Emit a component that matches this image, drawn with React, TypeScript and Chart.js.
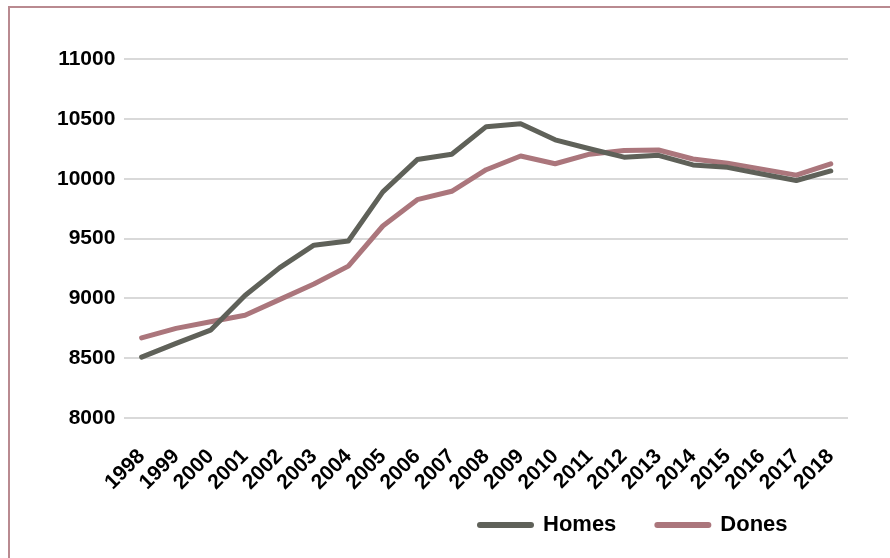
import React, { useEffect, useRef } from "react";
import { Chart, registerables } from "chart.js";

Chart.register(...registerables);

const years = [
  "1998", "1999", "2000", "2001", "2002", "2003", "2004", "2005", "2006", "2007",
  "2008", "2009", "2010", "2011", "2012", "2013", "2014", "2015", "2016", "2017", "2018",
];

const homes = [
  8510, 8625, 8735, 9025, 9255, 9445, 9480, 9890, 10160, 10205,
  10435, 10460, 10325, 10250, 10180, 10195, 10115, 10095, 10040, 9985, 10065,
];

const dones = [
  8670, 8750, 8805, 8860, 8990, 9120, 9270, 9605, 9825, 9895,
  10075, 10190, 10125, 10205, 10235, 10240, 10165, 10130, 10080, 10030, 10125,
];

const yTicks = [8000, 8500, 9000, 9500, 10000, 10500, 11000];

const HOMES_COLOR = "#5f6159";
const DONES_COLOR = "#ab767c";
const FONT = "'Liberation Sans', Arial, sans-serif";

const bottomLegend = {
  id: "bottomLegend",
  afterDraw(chart: any) {
    const ctx = chart.ctx;
    ctx.save();
    ctx.font = `bold 22px ${FONT}`;
    ctx.textBaseline = "middle";
    ctx.textAlign = "left";
    let x = 477;
    const y = 525;
    chart.data.datasets.forEach((ds: any) => {
      ctx.strokeStyle = ds.borderColor;
      ctx.lineWidth = 6;
      ctx.lineCap = "round";
      ctx.beginPath();
      ctx.moveTo(x + 3, y);
      ctx.lineTo(x + 54, y);
      ctx.stroke();
      ctx.fillStyle = "#000";
      ctx.fillText(ds.label, x + 66, y);
      x += 66 + ctx.measureText(ds.label).width + 38;
    });
    ctx.restore();
  },
};

export default function App() {
  const ref = useRef<HTMLCanvasElement | null>(null);
  useEffect(() => {
    if (!ref.current) return;
    const chart = new Chart(ref.current, {
      type: "line",
      data: {
        labels: years,
        datasets: [
          {
            label: "Homes",
            data: homes,
            borderColor: HOMES_COLOR,
            backgroundColor: HOMES_COLOR,
            borderWidth: 5,
            pointRadius: 0,
            tension: 0,
            borderJoinStyle: "round",
            borderCapStyle: "round",
          },
          {
            label: "Dones",
            data: dones,
            borderColor: DONES_COLOR,
            backgroundColor: DONES_COLOR,
            borderWidth: 5,
            pointRadius: 0,
            tension: 0,
            borderJoinStyle: "round",
            borderCapStyle: "round",
          },
        ],
      },
      options: {
        animation: false,
        responsive: false,
        maintainAspectRatio: false,
        layout: { padding: { left: 48, right: 42, top: 59, bottom: 37 } },
        plugins: {
          legend: { display: false },
          tooltip: { enabled: false },
        },
        scales: {
          x: {
            offset: true,
            grid: { display: false, drawTicks: false },
            border: { display: false },
            ticks: {
              color: "#000",
              font: { family: FONT, size: 21, weight: "bold" },
              maxRotation: 45,
              minRotation: 45,
              padding: 26,
              autoSkip: false,
            },
          },
          y: {
            min: 8000,
            max: 11000,
            afterBuildTicks: (axis: any) => {
              axis.ticks = yTicks.map((v) => ({ value: v }));
            },
            grid: { color: "#d9d9d9", lineWidth: 2, drawTicks: false },
            border: { display: false },
            ticks: {
              color: "#000",
              font: { family: FONT, size: 21, weight: "bold" },
              padding: 9,
              callback: (v: any) => String(v),
            },
          },
        },
      },
      plugins: [bottomLegend],
    });
    return () => chart.destroy();
  }, []);
  return (
    <>
      <div
        style={{
          position: "absolute",
          left: 8,
          top: 6,
          width: 882,
          height: 552,
          boxSizing: "border-box",
          borderLeft: "2px solid #b98a90",
          borderTop: "2px solid #b98a90",
        }}
      />
      <canvas
        ref={ref}
        width={890}
        height={558}
        style={{ position: "absolute", left: 0, top: 0, width: 890, height: 558 }}
      />
    </>
  );
}
